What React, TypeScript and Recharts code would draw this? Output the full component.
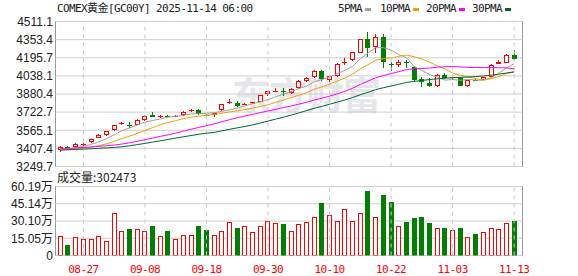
import { Bar, CartesianGrid, ComposedChart, Line, ReferenceLine, XAxis, YAxis } from "recharts";

const DATES = [
  "08-22", "08-25", "08-26", "08-27", "08-28", "08-29", "09-01", "09-02", "09-03", "09-04",
  "09-05", "09-08", "09-09", "09-10", "09-11", "09-12", "09-15", "09-16", "09-17", "09-18",
  "09-19", "09-22", "09-23", "09-24", "09-25", "09-26", "09-29", "09-30", "10-01", "10-02",
  "10-03", "10-06", "10-07", "10-08", "10-09", "10-10", "10-13", "10-14", "10-15", "10-16",
  "10-17", "10-20", "10-21", "10-22", "10-23", "10-24", "10-27", "10-28", "10-29", "10-30",
  "10-31", "11-03", "11-04", "11-05", "11-06", "11-07", "11-10", "11-11", "11-12", "11-13",
];

const OPEN = [
  3395, 3421, 3419, 3446, 3462, 3498, 3527, 3565, 3620, 3615,
  3615, 3650, 3696, 3683, 3690, 3685, 3696, 3735, 3740, 3700,
  3697, 3737, 3800, 3805, 3790, 3800, 3813, 3877, 3900, 3908,
  3889, 3933, 3997, 4026, 4079, 4006, 4035, 4152, 4175, 4240,
  4357, 4285, 4380, 4143, 4137, 4160, 4116, 4011, 3979, 3953,
  4046, 4017, 4021, 3953, 4003, 4005, 4029, 4145, 4152, 4216,
];
const HIGH = [
  3428, 3430, 3450, 3458, 3490, 3530, 3562, 3612, 3637, 3634,
  3665, 3695, 3725, 3700, 3698, 3694, 3735, 3752, 3752, 3710,
  3718, 3795, 3835, 3820, 3800, 3812, 3872, 3905, 3933, 3933,
  3930, 4000, 4025, 4090, 4090, 4045, 4150, 4190, 4250, 4360,
  4420, 4405, 4400, 4160, 4172, 4175, 4127, 4030, 4020, 4052,
  4065, 4035, 4030, 4003, 4010, 4030, 4140, 4175, 4230, 4260,
];
const LOW = [
  3372, 3410, 3415, 3425, 3455, 3494, 3518, 3560, 3608, 3585,
  3612, 3645, 3676, 3672, 3680, 3680, 3692, 3725, 3700, 3682,
  3680, 3733, 3790, 3766, 3782, 3795, 3810, 3860, 3895, 3866,
  3882, 3928, 3985, 4020, 3990, 3985, 4030, 4130, 4170, 4233,
  4205, 4240, 4105, 4080, 4117, 4110, 3995, 3940, 3945, 3938,
  4010, 3999, 3950, 3945, 3995, 4000, 4025, 4140, 4148, 4175,
];
const CLOSE = [
  3419, 3418, 3445, 3449, 3486, 3524, 3559, 3609, 3625, 3607,
  3650, 3690, 3679, 3692, 3685, 3690, 3728, 3740, 3708, 3695,
  3715, 3792, 3807, 3778, 3797, 3808, 3869, 3903, 3906, 3903,
  3927, 3997, 4017, 4079, 4012, 4041, 4143, 4160, 4245, 4356,
  4283, 4380, 4158, 4131, 4160, 4148, 4005, 3982, 3953, 4049,
  4017, 4029, 3953, 3999, 4000, 4026, 4134, 4157, 4216, 4187,
];
const VOLUME = [
  173000, 88000, 164000, 147000, 147000, 173000, 123000, 367000, 217000, 229000,
  229000, 217000, 255000, 173000, 211000, 147000, 182000, 182000, 255000, 220000,
  182000, 211000, 291000, 238000, 253000, 203000, 253000, 305000, 282000, 273000,
  211000, 273000, 291000, 332000, 458000, 352000, 297000, 402000, 305000, 367000,
  564000, 332000, 528000, 467000, 261000, 291000, 326000, 335000, 282000, 244000,
  238000, 226000, 244000, 164000, 185000, 203000, 244000, 235000, 282000, 302473,
];

const MA5 = [
  3398, 3402, 3411, 3424, 3443, 3464, 3493, 3525, 3561, 3585,
  3610, 3636, 3650, 3664, 3679, 3687, 3695, 3707, 3710, 3712,
  3717, 3730, 3743, 3757, 3778, 3796, 3812, 3831, 3857, 3878,
  3902, 3927, 3950, 3985, 4006, 4029, 4058, 4086, 4120, 4188,
  4237, 4284, 4284, 4262, 4224, 4196, 4120, 4085, 4050, 4027,
  4001, 4006, 4000, 4009, 4000, 4001, 4022, 4063, 4107, 4144,
];
const MA10 = [
  3400, 3401, 3405, 3410, 3418, 3431, 3447, 3468, 3493, 3514,
  3537, 3565, 3588, 3613, 3632, 3649, 3666, 3679, 3687, 3696,
  3702, 3713, 3725, 3734, 3745, 3757, 3771, 3787, 3807, 3828,
  3849, 3870, 3891, 3921, 3942, 3966, 3993, 4020, 4054, 4099,
  4135, 4174, 4188, 4194, 4208, 4219, 4205, 4186, 4157, 4126,
  4099, 4063, 4043, 4030, 4014, 4001, 4014, 4032, 4058, 4072,
];
const MA20 = [
  3405, 3408, 3411, 3415, 3420, 3425, 3430, 3436, 3445, 3456,
  3469, 3483, 3497, 3512, 3525, 3540, 3557, 3574, 3590, 3605,
  3620, 3639, 3657, 3674, 3689, 3703, 3719, 3733, 3747, 3762,
  3776, 3792, 3808, 3828, 3844, 3862, 3882, 3904, 3931, 3964,
  3992, 4022, 4040, 4058, 4075, 4093, 4099, 4103, 4106, 4113,
  4117, 4119, 4116, 4112, 4111, 4110, 4110, 4109, 4108, 4099,
];
const MA30 = [
  3392, 3395, 3398, 3401, 3404, 3408, 3412, 3416, 3421, 3430,
  3440, 3451, 3462, 3473, 3485, 3497, 3508, 3519, 3530, 3540,
  3546, 3560, 3573, 3586, 3598, 3612, 3628, 3645, 3662, 3679,
  3696, 3716, 3735, 3756, 3773, 3791, 3810, 3829, 3849, 3874,
  3895, 3919, 3935, 3950, 3965, 3981, 3990, 3998, 4006, 4012,
  4018, 4022, 4025, 4028, 4032, 4037, 4044, 4053, 4063, 4073,
];

const DATE_LABELS = ["08-27", "09-08", "09-18", "09-30", "10-10", "10-22", "11-03", "11-13"];
const PRICE_TICKS = [3249.7, 3407.4, 3565.1, 3722.7, 3880.4, 4038.1, 4195.7, 4353.4, 4511.1];
const VOL_TICKS = [0, 150500, 301000, 451400, 601900];

const RED = "#ff0000";
const GREEN = "#008000";
const LEGEND = [
  { name: "5PMA", key: "ma5", color: "#a0a0a0", left: 338 },
  { name: "10PMA", key: "ma10", color: "#f2a000", left: 380 },
  { name: "20PMA", key: "ma20", color: "#ff00ff", left: 426 },
  { name: "30PMA", key: "ma30", color: "#00662e", left: 472 },
];

const rows = DATES.map((date, i) => ({
  date,
  open: OPEN[i],
  high: HIGH[i],
  low: LOW[i],
  close: CLOSE[i],
  vol: VOLUME[i],
  ma5: MA5[i],
  ma10: MA10[i],
  ma20: MA20[i],
  ma30: MA30[i],
}));

const MONO = "'DejaVu Sans Mono', 'Noto Sans CJK SC', monospace";
const SANS = "'Liberation Sans', Arial, 'Noto Sans CJK SC', sans-serif";
const axisTick = { fontSize: 12, fill: "#222", fontFamily: SANS };

function Candle(p: any) {
  const { x, width, payload } = p;
  let { y, height } = p;
  if (height < 0) {
    y += height;
    height = -height;
  }
  const { open, close, high, low } = payload;
  const k = high > low ? height / (high - low) : 0;
  const py = (v: number) => Math.round(y + (high - v) * k);
  const cx = Math.floor(x + width / 2) + 0.5;
  const up = close >= open;
  const color = up ? RED : GREEN;
  const t = py(Math.max(open, close));
  const b = py(Math.min(open, close));
  const thin = b - t < 2;
  return (
    <g>
      <line x1={cx} x2={cx} y1={py(high)} y2={t} stroke={color} />
      <line x1={cx} x2={cx} y1={b} y2={py(low)} stroke={color} />
      {up && !thin ? (
        <rect x={cx - 2} y={t + 0.5} width={4} height={b - t - 1} fill="#fff" stroke={color} />
      ) : (
        <rect x={cx - 2.5} y={t} width={5} height={Math.max(b - t, 1)} fill={color} />
      )}
    </g>
  );
}

function VolBar(p: any) {
  const { x, y, width, height, payload } = p;
  const cx = Math.floor(x + width / 2) + 0.5;
  const top = Math.round(y);
  const bot = Math.round(y + height);
  if (payload.close >= payload.open) {
    return <rect x={cx - 2} y={top + 0.5} width={4} height={bot - top - 1} fill="#fff" stroke={RED} />;
  }
  return <rect x={cx - 2.5} y={top} width={5} height={bot - top} fill={GREEN} />;
}

function DateTick(p: any) {
  const v = p.payload.value;
  if (!DATE_LABELS.includes(v)) return <g />;
  return (
    <text x={p.x} y={p.y + 15} textAnchor="middle" fontSize={11} letterSpacing={-0.6} fill={RED} fontFamily={MONO}>
      {v}
    </text>
  );
}

const volLabel = (v: number) => (v === 0 ? "0" : (v / 10000).toFixed(2) + "万");

export default function App() {
  const frame = { position: "absolute" as const, left: 55, width: 468, border: "1px solid #999", boxSizing: "border-box" as const };
  return (
    <div style={{ position: "fixed", left: 0, top: 0, width: 578, height: 276, background: "#fff", overflow: "hidden" }}>
      <div
        style={{
          position: "absolute", left: 232, top: 74, fontSize: 38, lineHeight: 1, fontWeight: 700,
          color: "#e6e6ea", fontFamily: "'Noto Sans CJK SC', sans-serif", letterSpacing: -1,
        }}
      >
        东方财富
      </div>
      <div style={{ ...frame, top: 21, height: 146 }} />
      <div style={{ ...frame, top: 186, height: 70 }} />

      <div style={{ position: "absolute", left: 57, top: 2, fontSize: 11, lineHeight: "14px", letterSpacing: -0.6, color: "#222", fontFamily: MONO }}>
        COMEX黄金[GC00Y] 2025-11-14 06:00
      </div>
      {LEGEND.map((l) => (
        <div
          key={l.key}
          style={{
            position: "absolute", left: l.left, top: 2, display: "flex", alignItems: "center",
            fontSize: 11, lineHeight: "14px", letterSpacing: -0.6, color: "#222", fontFamily: MONO,
          }}
        >
          {l.name}
          <span style={{ display: "inline-block", width: 6, height: 3, background: l.color, marginLeft: 3 }} />
        </div>
      ))}
      <div style={{ position: "absolute", left: 57, top: 170, fontSize: 12, lineHeight: "14px", color: "#222", fontFamily: "'Noto Sans CJK SC', sans-serif" }}>
        成交量:{VOLUME[VOLUME.length - 1]}
      </div>

      <div style={{ position: "absolute", left: 0, top: 0 }}>
        <ComposedChart width={578} height={180} data={rows} margin={{ top: 21.5, right: 55.5, bottom: 13.5, left: 0 }}>
          <CartesianGrid vertical={false} stroke="#cfcfcf" />
          <XAxis dataKey="date" hide padding={{ left: 1, right: 4.5 }} />
          <YAxis
            width={55.5}
            domain={[3249.7, 4511.1]}
            ticks={PRICE_TICKS}
            allowDataOverflow
            axisLine={false}
            tickLine={false}
            tickSize={0}
            tickMargin={2.5}
            interval={0}
            tick={axisTick}
            tickFormatter={(v: number) => v.toFixed(1)}
          />
          {DATE_LABELS.map((d) => (
            <ReferenceLine key={d} x={d} stroke="#c8c8c8" strokeDasharray="4 4" />
          ))}
          {LEGEND.map((l) => (
            <Line key={l.key} type="linear" dataKey={l.key} stroke={l.color} strokeWidth={1} dot={false} activeDot={false} isAnimationActive={false} />
          ))}
          <Bar dataKey={(d: any) => [d.low, d.high]} shape={<Candle />} isAnimationActive={false} />
        </ComposedChart>
      </div>

      <div style={{ position: "absolute", left: 0, top: 0 }}>
        <ComposedChart width={578} height={276} data={rows} margin={{ top: 186.5, right: 55.5, bottom: 0, left: 0 }}>
          <CartesianGrid vertical={false} stroke="#cfcfcf" />
          <XAxis
            dataKey="date"
            height={20.5}
            padding={{ left: 1, right: 4.5 }}
            axisLine={false}
            tickLine={false}
            tickSize={0}
            interval={0}
            tick={<DateTick />}
          />
          <YAxis
            width={55.5}
            domain={[0, 601900]}
            ticks={VOL_TICKS}
            allowDataOverflow
            axisLine={false}
            tickLine={false}
            tickSize={0}
            tickMargin={2.5}
            interval={0}
            tick={axisTick}
            tickFormatter={volLabel}
          />
          {DATE_LABELS.map((d) => (
            <ReferenceLine key={d} x={d} stroke="#c8c8c8" strokeDasharray="4 4" />
          ))}
          <Bar dataKey="vol" shape={<VolBar />} isAnimationActive={false} />
        </ComposedChart>
      </div>
    </div>
  );
}
